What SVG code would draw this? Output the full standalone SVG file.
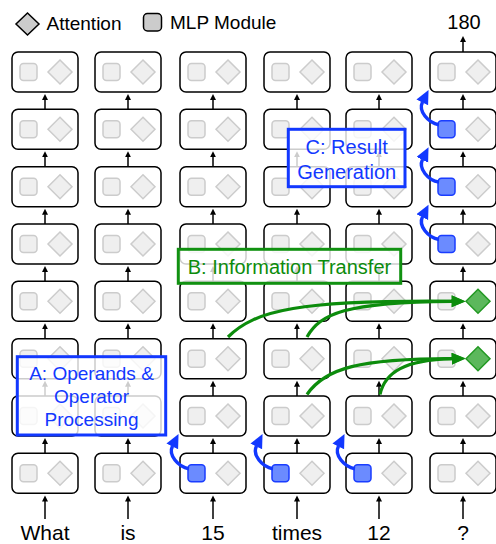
<svg xmlns="http://www.w3.org/2000/svg" width="496" height="544" viewBox="0 0 496 544">
<defs>
<style>
text{font-family:"Liberation Sans",Arial,sans-serif;}
.box{fill:#fff;stroke:#000;stroke-width:1.5;}
.mlp{fill:#efefef;stroke:#cccccc;stroke-width:1.5;}
.att{fill:#efefef;stroke:#cccccc;stroke-width:1.5;}
.mlp.hl{fill:#6b8bff;stroke:#1a3dff;}
.att.hl{fill:#5cb85c;stroke:#229922;}
.flow{stroke:#000;stroke-width:1.5;fill:none;}
.blue{stroke:#1238ff;stroke-width:3.4;fill:none;}
.green{stroke:#0c8c0c;stroke-width:3.2;fill:none;}
.lblA,.lblC{fill:#fff;fill-opacity:0.8;stroke:#1238ff;stroke-width:3;}
.lblB{fill:#fff;fill-opacity:0.8;stroke:#119111;stroke-width:3;}
.tb{fill:#1238ff;font-size:20px;text-anchor:middle;}
.tg{fill:#0c8c0c;font-size:20px;text-anchor:middle;}
.word{font-size:21px;text-anchor:middle;fill:#000;}
.leg{font-size:19px;fill:#000;}
</style>
<marker id="ak" markerUnits="userSpaceOnUse" markerWidth="7" markerHeight="7" refX="0.5" refY="3" orient="auto"><path d="M0,0 L6,3 L0,6 z" fill="#000"/></marker>
<marker id="ab" markerUnits="userSpaceOnUse" markerWidth="16" markerHeight="14" refX="0.5" refY="6.5" orient="auto"><path d="M0,0 L14,6.5 L0,13 z" fill="#1238ff"/></marker>
<marker id="ag" markerUnits="userSpaceOnUse" markerWidth="16" markerHeight="14" refX="0.5" refY="6" orient="auto"><path d="M0,0 L14,6 L0,12 z" fill="#0c8c0c"/></marker>
</defs>
<rect width="496" height="544" fill="#fff"/>

<g id="legend">
<polygon points="27.5,13 39,24 27.5,35 16,24" fill="#cccccc" stroke="#000" stroke-width="1.5"/>
<text class="leg" x="46.5" y="29.5">Attention</text>
<rect x="143.5" y="13.5" width="18" height="17.5" rx="4" fill="#cccccc" stroke="#000" stroke-width="1.5"/>
<text class="leg" x="170" y="29">MLP Module</text>
</g>

<g id="connectors">
<line class="flow" x1="45" y1="519" x2="45" y2="501" marker-end="url(#ak)"/>
<line class="flow" x1="128" y1="519" x2="128" y2="501" marker-end="url(#ak)"/>
<line class="flow" x1="213" y1="519" x2="213" y2="501" marker-end="url(#ak)"/>
<line class="flow" x1="297" y1="519" x2="297" y2="501" marker-end="url(#ak)"/>
<line class="flow" x1="379" y1="519" x2="379" y2="501" marker-end="url(#ak)"/>
<line class="flow" x1="463" y1="519" x2="463" y2="501" marker-end="url(#ak)"/>
<line class="flow" x1="463" y1="52" x2="463" y2="41.5" marker-end="url(#ak)"/>
<g id="col1-arrows">
<line class="flow" x1="45" y1="109.3" x2="45" y2="99.5" marker-end="url(#ak)"/>
<line class="flow" x1="45" y1="166.7" x2="45" y2="156.8" marker-end="url(#ak)"/>
<line class="flow" x1="45" y1="224" x2="45" y2="214.2" marker-end="url(#ak)"/>
<line class="flow" x1="45" y1="281.3" x2="45" y2="271.5" marker-end="url(#ak)"/>
<line class="flow" x1="45" y1="338.7" x2="45" y2="328.8" marker-end="url(#ak)"/>
<line class="flow" x1="45" y1="396" x2="45" y2="386.2" marker-end="url(#ak)"/>
<line class="flow" x1="45" y1="453.3" x2="45" y2="443.5" marker-end="url(#ak)"/>
</g>
<g id="col2-arrows">
<line class="flow" x1="128" y1="109.3" x2="128" y2="99.5" marker-end="url(#ak)"/>
<line class="flow" x1="128" y1="166.7" x2="128" y2="156.8" marker-end="url(#ak)"/>
<line class="flow" x1="128" y1="224" x2="128" y2="214.2" marker-end="url(#ak)"/>
<line class="flow" x1="128" y1="281.3" x2="128" y2="271.5" marker-end="url(#ak)"/>
<line class="flow" x1="128" y1="338.7" x2="128" y2="328.8" marker-end="url(#ak)"/>
<line class="flow" x1="128" y1="396" x2="128" y2="386.2" marker-end="url(#ak)"/>
<line class="flow" x1="128" y1="453.3" x2="128" y2="443.5" marker-end="url(#ak)"/>
</g>
<g id="col3-arrows">
<line class="flow" x1="213" y1="109.3" x2="213" y2="99.5" marker-end="url(#ak)"/>
<line class="flow" x1="213" y1="166.7" x2="213" y2="156.8" marker-end="url(#ak)"/>
<line class="flow" x1="213" y1="224" x2="213" y2="214.2" marker-end="url(#ak)"/>
<line class="flow" x1="213" y1="281.3" x2="213" y2="271.5" marker-end="url(#ak)"/>
<line class="flow" x1="213" y1="338.7" x2="213" y2="328.8" marker-end="url(#ak)"/>
<line class="flow" x1="213" y1="396" x2="213" y2="386.2" marker-end="url(#ak)"/>
<line class="flow" x1="213" y1="453.3" x2="213" y2="443.5" marker-end="url(#ak)"/>
</g>
<g id="col4-arrows">
<line class="flow" x1="297" y1="109.3" x2="297" y2="99.5" marker-end="url(#ak)"/>
<line class="flow" x1="297" y1="166.7" x2="297" y2="156.8" marker-end="url(#ak)"/>
<line class="flow" x1="297" y1="224" x2="297" y2="214.2" marker-end="url(#ak)"/>
<line class="flow" x1="297" y1="281.3" x2="297" y2="271.5" marker-end="url(#ak)"/>
<line class="flow" x1="297" y1="338.7" x2="297" y2="328.8" marker-end="url(#ak)"/>
<line class="flow" x1="297" y1="396" x2="297" y2="386.2" marker-end="url(#ak)"/>
<line class="flow" x1="297" y1="453.3" x2="297" y2="443.5" marker-end="url(#ak)"/>
</g>
<g id="col5-arrows">
<line class="flow" x1="379" y1="109.3" x2="379" y2="99.5" marker-end="url(#ak)"/>
<line class="flow" x1="379" y1="166.7" x2="379" y2="156.8" marker-end="url(#ak)"/>
<line class="flow" x1="379" y1="224" x2="379" y2="214.2" marker-end="url(#ak)"/>
<line class="flow" x1="379" y1="281.3" x2="379" y2="271.5" marker-end="url(#ak)"/>
<line class="flow" x1="379" y1="338.7" x2="379" y2="328.8" marker-end="url(#ak)"/>
<line class="flow" x1="379" y1="396" x2="379" y2="386.2" marker-end="url(#ak)"/>
<line class="flow" x1="379" y1="453.3" x2="379" y2="443.5" marker-end="url(#ak)"/>
</g>
<g id="col6-arrows">
<line class="flow" x1="463" y1="109.3" x2="463" y2="99.5" marker-end="url(#ak)"/>
<line class="flow" x1="463" y1="166.7" x2="463" y2="156.8" marker-end="url(#ak)"/>
<line class="flow" x1="463" y1="224" x2="463" y2="214.2" marker-end="url(#ak)"/>
<line class="flow" x1="463" y1="281.3" x2="463" y2="271.5" marker-end="url(#ak)"/>
<line class="flow" x1="463" y1="338.7" x2="463" y2="328.8" marker-end="url(#ak)"/>
<line class="flow" x1="463" y1="396" x2="463" y2="386.2" marker-end="url(#ak)"/>
<line class="flow" x1="463" y1="453.3" x2="463" y2="443.5" marker-end="url(#ak)"/>
</g>
</g>

<g id="nodes">
<g id="n-c1-r1" transform="translate(12,52)"><rect class="box" width="66" height="40" rx="6"/><rect class="mlp" x="8" y="11.5" width="17" height="17" rx="3.5"/><polygon class="att" points="48,8 60,20 48,32 36,20"/></g>
<g id="n-c1-r2" transform="translate(12,109.3)"><rect class="box" width="66" height="40" rx="6"/><rect class="mlp" x="8" y="11.5" width="17" height="17" rx="3.5"/><polygon class="att" points="48,8 60,20 48,32 36,20"/></g>
<g id="n-c1-r3" transform="translate(12,166.7)"><rect class="box" width="66" height="40" rx="6"/><rect class="mlp" x="8" y="11.5" width="17" height="17" rx="3.5"/><polygon class="att" points="48,8 60,20 48,32 36,20"/></g>
<g id="n-c1-r4" transform="translate(12,224)"><rect class="box" width="66" height="40" rx="6"/><rect class="mlp" x="8" y="11.5" width="17" height="17" rx="3.5"/><polygon class="att" points="48,8 60,20 48,32 36,20"/></g>
<g id="n-c1-r5" transform="translate(12,281.3)"><rect class="box" width="66" height="40" rx="6"/><rect class="mlp" x="8" y="11.5" width="17" height="17" rx="3.5"/><polygon class="att" points="48,8 60,20 48,32 36,20"/></g>
<g id="n-c1-r6" transform="translate(12,338.7)"><rect class="box" width="66" height="40" rx="6"/><rect class="mlp" x="8" y="11.5" width="17" height="17" rx="3.5"/><polygon class="att" points="48,8 60,20 48,32 36,20"/></g>
<g id="n-c1-r7" transform="translate(12,396)"><rect class="box" width="66" height="40" rx="6"/><rect class="mlp" x="8" y="11.5" width="17" height="17" rx="3.5"/><polygon class="att" points="48,8 60,20 48,32 36,20"/></g>
<g id="n-c1-r8" transform="translate(12,453.3)"><rect class="box" width="66" height="40" rx="6"/><rect class="mlp" x="8" y="11.5" width="17" height="17" rx="3.5"/><polygon class="att" points="48,8 60,20 48,32 36,20"/></g>

<g id="n-c2-r1" transform="translate(95,52)"><rect class="box" width="66" height="40" rx="6"/><rect class="mlp" x="8" y="11.5" width="17" height="17" rx="3.5"/><polygon class="att" points="48,8 60,20 48,32 36,20"/></g>
<g id="n-c2-r2" transform="translate(95,109.3)"><rect class="box" width="66" height="40" rx="6"/><rect class="mlp" x="8" y="11.5" width="17" height="17" rx="3.5"/><polygon class="att" points="48,8 60,20 48,32 36,20"/></g>
<g id="n-c2-r3" transform="translate(95,166.7)"><rect class="box" width="66" height="40" rx="6"/><rect class="mlp" x="8" y="11.5" width="17" height="17" rx="3.5"/><polygon class="att" points="48,8 60,20 48,32 36,20"/></g>
<g id="n-c2-r4" transform="translate(95,224)"><rect class="box" width="66" height="40" rx="6"/><rect class="mlp" x="8" y="11.5" width="17" height="17" rx="3.5"/><polygon class="att" points="48,8 60,20 48,32 36,20"/></g>
<g id="n-c2-r5" transform="translate(95,281.3)"><rect class="box" width="66" height="40" rx="6"/><rect class="mlp" x="8" y="11.5" width="17" height="17" rx="3.5"/><polygon class="att" points="48,8 60,20 48,32 36,20"/></g>
<g id="n-c2-r6" transform="translate(95,338.7)"><rect class="box" width="66" height="40" rx="6"/><rect class="mlp" x="8" y="11.5" width="17" height="17" rx="3.5"/><polygon class="att" points="48,8 60,20 48,32 36,20"/></g>
<g id="n-c2-r7" transform="translate(95,396)"><rect class="box" width="66" height="40" rx="6"/><rect class="mlp" x="8" y="11.5" width="17" height="17" rx="3.5"/><polygon class="att" points="48,8 60,20 48,32 36,20"/></g>
<g id="n-c2-r8" transform="translate(95,453.3)"><rect class="box" width="66" height="40" rx="6"/><rect class="mlp" x="8" y="11.5" width="17" height="17" rx="3.5"/><polygon class="att" points="48,8 60,20 48,32 36,20"/></g>

<g id="n-c3-r1" transform="translate(180,52)"><rect class="box" width="66" height="40" rx="6"/><rect class="mlp" x="8" y="11.5" width="17" height="17" rx="3.5"/><polygon class="att" points="48,8 60,20 48,32 36,20"/></g>
<g id="n-c3-r2" transform="translate(180,109.3)"><rect class="box" width="66" height="40" rx="6"/><rect class="mlp" x="8" y="11.5" width="17" height="17" rx="3.5"/><polygon class="att" points="48,8 60,20 48,32 36,20"/></g>
<g id="n-c3-r3" transform="translate(180,166.7)"><rect class="box" width="66" height="40" rx="6"/><rect class="mlp" x="8" y="11.5" width="17" height="17" rx="3.5"/><polygon class="att" points="48,8 60,20 48,32 36,20"/></g>
<g id="n-c3-r4" transform="translate(180,224)"><rect class="box" width="66" height="40" rx="6"/><rect class="mlp" x="8" y="11.5" width="17" height="17" rx="3.5"/><polygon class="att" points="48,8 60,20 48,32 36,20"/></g>
<g id="n-c3-r5" transform="translate(180,281.3)"><rect class="box" width="66" height="40" rx="6"/><rect class="mlp" x="8" y="11.5" width="17" height="17" rx="3.5"/><polygon class="att" points="48,8 60,20 48,32 36,20"/></g>
<g id="n-c3-r6" transform="translate(180,338.7)"><rect class="box" width="66" height="40" rx="6"/><rect class="mlp" x="8" y="11.5" width="17" height="17" rx="3.5"/><polygon class="att" points="48,8 60,20 48,32 36,20"/></g>
<g id="n-c3-r7" transform="translate(180,396)"><rect class="box" width="66" height="40" rx="6"/><rect class="mlp" x="8" y="11.5" width="17" height="17" rx="3.5"/><polygon class="att" points="48,8 60,20 48,32 36,20"/></g>
<g id="n-c3-r8" transform="translate(180,453.3)"><rect class="box" width="66" height="40" rx="6"/><rect class="mlp hl" x="8" y="11.5" width="17" height="17" rx="3.5"/><polygon class="att" points="48,8 60,20 48,32 36,20"/></g>

<g id="n-c4-r1" transform="translate(264,52)"><rect class="box" width="66" height="40" rx="6"/><rect class="mlp" x="8" y="11.5" width="17" height="17" rx="3.5"/><polygon class="att" points="48,8 60,20 48,32 36,20"/></g>
<g id="n-c4-r2" transform="translate(264,109.3)"><rect class="box" width="66" height="40" rx="6"/><rect class="mlp" x="8" y="11.5" width="17" height="17" rx="3.5"/><polygon class="att" points="48,8 60,20 48,32 36,20"/></g>
<g id="n-c4-r3" transform="translate(264,166.7)"><rect class="box" width="66" height="40" rx="6"/><rect class="mlp" x="8" y="11.5" width="17" height="17" rx="3.5"/><polygon class="att" points="48,8 60,20 48,32 36,20"/></g>
<g id="n-c4-r4" transform="translate(264,224)"><rect class="box" width="66" height="40" rx="6"/><rect class="mlp" x="8" y="11.5" width="17" height="17" rx="3.5"/><polygon class="att" points="48,8 60,20 48,32 36,20"/></g>
<g id="n-c4-r5" transform="translate(264,281.3)"><rect class="box" width="66" height="40" rx="6"/><rect class="mlp" x="8" y="11.5" width="17" height="17" rx="3.5"/><polygon class="att" points="48,8 60,20 48,32 36,20"/></g>
<g id="n-c4-r6" transform="translate(264,338.7)"><rect class="box" width="66" height="40" rx="6"/><rect class="mlp" x="8" y="11.5" width="17" height="17" rx="3.5"/><polygon class="att" points="48,8 60,20 48,32 36,20"/></g>
<g id="n-c4-r7" transform="translate(264,396)"><rect class="box" width="66" height="40" rx="6"/><rect class="mlp" x="8" y="11.5" width="17" height="17" rx="3.5"/><polygon class="att" points="48,8 60,20 48,32 36,20"/></g>
<g id="n-c4-r8" transform="translate(264,453.3)"><rect class="box" width="66" height="40" rx="6"/><rect class="mlp hl" x="8" y="11.5" width="17" height="17" rx="3.5"/><polygon class="att" points="48,8 60,20 48,32 36,20"/></g>

<g id="n-c5-r1" transform="translate(346,52)"><rect class="box" width="66" height="40" rx="6"/><rect class="mlp" x="8" y="11.5" width="17" height="17" rx="3.5"/><polygon class="att" points="48,8 60,20 48,32 36,20"/></g>
<g id="n-c5-r2" transform="translate(346,109.3)"><rect class="box" width="66" height="40" rx="6"/><rect class="mlp" x="8" y="11.5" width="17" height="17" rx="3.5"/><polygon class="att" points="48,8 60,20 48,32 36,20"/></g>
<g id="n-c5-r3" transform="translate(346,166.7)"><rect class="box" width="66" height="40" rx="6"/><rect class="mlp" x="8" y="11.5" width="17" height="17" rx="3.5"/><polygon class="att" points="48,8 60,20 48,32 36,20"/></g>
<g id="n-c5-r4" transform="translate(346,224)"><rect class="box" width="66" height="40" rx="6"/><rect class="mlp" x="8" y="11.5" width="17" height="17" rx="3.5"/><polygon class="att" points="48,8 60,20 48,32 36,20"/></g>
<g id="n-c5-r5" transform="translate(346,281.3)"><rect class="box" width="66" height="40" rx="6"/><rect class="mlp" x="8" y="11.5" width="17" height="17" rx="3.5"/><polygon class="att" points="48,8 60,20 48,32 36,20"/></g>
<g id="n-c5-r6" transform="translate(346,338.7)"><rect class="box" width="66" height="40" rx="6"/><rect class="mlp" x="8" y="11.5" width="17" height="17" rx="3.5"/><polygon class="att" points="48,8 60,20 48,32 36,20"/></g>
<g id="n-c5-r7" transform="translate(346,396)"><rect class="box" width="66" height="40" rx="6"/><rect class="mlp" x="8" y="11.5" width="17" height="17" rx="3.5"/><polygon class="att" points="48,8 60,20 48,32 36,20"/></g>
<g id="n-c5-r8" transform="translate(346,453.3)"><rect class="box" width="66" height="40" rx="6"/><rect class="mlp hl" x="8" y="11.5" width="17" height="17" rx="3.5"/><polygon class="att" points="48,8 60,20 48,32 36,20"/></g>

<g id="n-c6-r1" transform="translate(430,52)"><rect class="box" width="66" height="40" rx="6"/><rect class="mlp" x="8" y="11.5" width="17" height="17" rx="3.5"/><polygon class="att" points="48,8 60,20 48,32 36,20"/></g>
<g id="n-c6-r2" transform="translate(430,109.3)"><rect class="box" width="66" height="40" rx="6"/><rect class="mlp hl" x="8" y="11.5" width="17" height="17" rx="3.5"/><polygon class="att" points="48,8 60,20 48,32 36,20"/></g>
<g id="n-c6-r3" transform="translate(430,166.7)"><rect class="box" width="66" height="40" rx="6"/><rect class="mlp hl" x="8" y="11.5" width="17" height="17" rx="3.5"/><polygon class="att" points="48,8 60,20 48,32 36,20"/></g>
<g id="n-c6-r4" transform="translate(430,224)"><rect class="box" width="66" height="40" rx="6"/><rect class="mlp hl" x="8" y="11.5" width="17" height="17" rx="3.5"/><polygon class="att" points="48,8 60,20 48,32 36,20"/></g>
<g id="n-c6-r5" transform="translate(430,281.3)"><rect class="box" width="66" height="40" rx="6"/><rect class="mlp" x="8" y="11.5" width="17" height="17" rx="3.5"/><polygon class="att hl" points="48,8 60,20 48,32 36,20"/></g>
<g id="n-c6-r6" transform="translate(430,338.7)"><rect class="box" width="66" height="40" rx="6"/><rect class="mlp" x="8" y="11.5" width="17" height="17" rx="3.5"/><polygon class="att hl" points="48,8 60,20 48,32 36,20"/></g>
<g id="n-c6-r7" transform="translate(430,396)"><rect class="box" width="66" height="40" rx="6"/><rect class="mlp" x="8" y="11.5" width="17" height="17" rx="3.5"/><polygon class="att" points="48,8 60,20 48,32 36,20"/></g>
<g id="n-c6-r8" transform="translate(430,453.3)"><rect class="box" width="66" height="40" rx="6"/><rect class="mlp" x="8" y="11.5" width="17" height="17" rx="3.5"/><polygon class="att" points="48,8 60,20 48,32 36,20"/></g>
</g>

<g id="highlight-connectors">
<path class="blue" d="M189,468.8 C178,466.8 168,455 172.5,446" marker-end="url(#ab)"/>
<path class="blue" d="M273,468.8 C262,466.8 252,455 256.5,446" marker-end="url(#ab)"/>
<path class="blue" d="M355,468.8 C344,466.8 334,455 338.5,446" marker-end="url(#ab)"/>
<path class="blue" d="M439,124.8 C428,122.8 418,111 422.5,102" marker-end="url(#ab)"/>
<path class="blue" d="M439,182.2 C428,180.2 418,168.4 422.5,159.4" marker-end="url(#ab)"/>
<path class="blue" d="M439,239.5 C428,237.5 418,225.7 422.5,216.7" marker-end="url(#ab)"/>
<path class="green" d="M228,337 C255,310 300,300 452,301.3" marker-end="url(#ag)"/>
<path class="green" d="M307,337 C320,314 345,302 452,301.3" marker-end="url(#ag)"/>
<path class="green" d="M307,394.5 C325,368 360,358.7 452,358.7" marker-end="url(#ag)"/>
<path class="green" d="M380,394.5 C385,372 405,360 452,358.7" marker-end="url(#ag)"/>
</g>

<g id="labels">
<text class="word" x="45" y="539.5">What</text>
<text class="word" x="128" y="539.5">is</text>
<text class="word" x="213" y="539.5">15</text>
<text class="word" x="297" y="539.5">times</text>
<text class="word" x="379" y="539.5">12</text>
<text class="word" x="463" y="539.5">?</text>
<text class="word" x="464" y="28.5" style="font-size:20px">180</text>
</g>

<g id="label-C">
<rect class="lblC" x="288.3" y="129.3" width="116.7" height="57.4"/>
<text class="tb" x="346.7" y="154">C: Result</text>
<text class="tb" x="346.7" y="178.5">Generation</text>
</g>
<g id="label-B">
<rect class="lblB" x="178.3" y="249.3" width="222.4" height="34"/>
<text class="tg" x="289.5" y="273.5">B: Information Transfer</text>
</g>
<g id="label-A">
<rect class="lblA" x="17.3" y="356.7" width="148.4" height="78.3"/>
<text class="tb" x="91.5" y="379.5" style="font-size:19px">A: Operands &amp;</text>
<text class="tb" x="91.5" y="402.5" style="font-size:19px">Operator</text>
<text class="tb" x="91.5" y="425.5" style="font-size:19px">Processing</text>
</g>
</svg>
